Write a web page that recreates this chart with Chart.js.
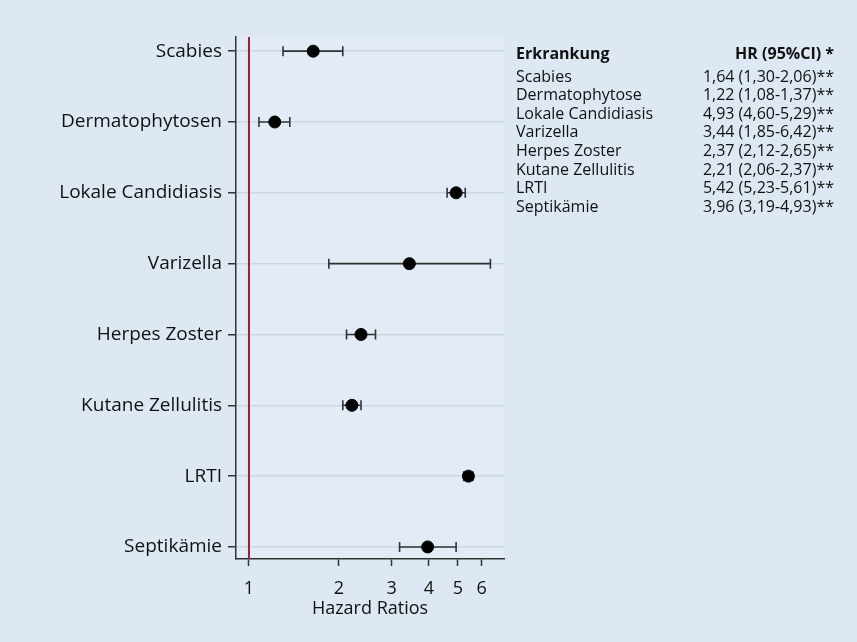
<!DOCTYPE html>
<html>
<head>
<meta charset="utf-8">
<script src="https://cdn.jsdelivr.net/npm/chart.js@4"></script>
<style>
  html, body { margin: 0; padding: 0; background: #dde8f3; }
  #wrap { position: relative; width: 857px; height: 642px; }
  #chart { position: absolute; left: 0; top: 0; }
  #table { position: absolute; left: 516px; top: 44px; width: 318px;
           font-family: "Open Sans", sans-serif; font-size: 16px; color: #111; line-height: 18.6px; }
  #table .row { display: flex; justify-content: space-between; white-space: nowrap; }
  #table .head { font-weight: bold; margin-bottom: 4px; }
</style>
</head>
<body>
<div id="wrap">
  <canvas id="chart" width="857" height="642"></canvas>
  <div id="table"></div>
</div>
<script>
const categories = ["Scabies", "Dermatophytosen", "Lokale Candidiasis", "Varizella", "Herpes Zoster", "Kutane Zellulitis", "LRTI", "Septikämie"];
const tableNames = ["Scabies", "Dermatophytose", "Lokale Candidiasis", "Varizella", "Herpes Zoster", "Kutane Zellulitis", "LRTI", "Septikämie"];
const hr = [1.64, 1.22, 4.93, 3.44, 2.37, 2.21, 5.42, 3.96];
const ciLow = [1.30, 1.08, 4.60, 1.85, 2.12, 2.06, 5.23, 3.19];
const ciHigh = [2.06, 1.37, 5.29, 6.42, 2.65, 2.37, 5.61, 4.93];
const xTicks = [1, 2, 3, 4, 5, 6];

const fmt = v => v.toFixed(2).replace('.', ',');

// table on the right
let html = '<div class="row head"><span>Erkrankung</span><span>HR (95%CI) *</span></div>';
tableNames.forEach((n, i) => {
    html += `<div class="row"><span>${n}</span><span>${fmt(hr[i])} (${fmt(ciLow[i])}-${fmt(ciHigh[i])})**</span></div>`;
});
document.getElementById('table').innerHTML = html;

const plotBg = {
    id: 'plotBg',
    beforeDraw(chart) {
        const { ctx, chartArea: a } = chart;
        ctx.save();
        ctx.fillStyle = '#e3ecf6';
        ctx.fillRect(a.left, a.top, a.right - a.left, a.bottom - a.top);
        ctx.restore();
    }
};

const errorBars = {
    id: 'errorBars',
    beforeDatasetsDraw(chart) {
        const { ctx, scales: { x, y } } = chart;
        ctx.save();
        ctx.strokeStyle = '#333';
        ctx.lineWidth = 1.6;
        hr.forEach((v, i) => {
            const py = y.getPixelForValue(i);
            const x1 = x.getPixelForValue(ciLow[i]);
            const x2 = x.getPixelForValue(ciHigh[i]);
            ctx.beginPath();
            ctx.moveTo(x1, py); ctx.lineTo(x2, py);
            ctx.moveTo(x1, py - 5); ctx.lineTo(x1, py + 5);
            ctx.moveTo(x2, py - 5); ctx.lineTo(x2, py + 5);
            ctx.stroke();
        });
        ctx.restore();
    }
};

new Chart(document.getElementById('chart'), {
    type: 'scatter',
    data: {
        datasets: [
            {
                data: hr.map((v, i) => ({ x: v, y: i })),
                backgroundColor: '#000',
                borderColor: '#000',
                pointRadius: 6,
                order: 1
            },
            {
                type: 'line',
                data: [{ x: 1, y: -0.2 }, { x: 1, y: 7.2 }],
                borderColor: '#9b1b3c',
                borderWidth: 2,
                pointRadius: 0,
                order: 2
            }
        ]
    },
    options: {
        responsive: false,
        animation: false,
        layout: { padding: { left: 10, right: 353, top: 37, bottom: 22 } },
        plugins: { legend: { display: false }, tooltip: { enabled: false } },
        scales: {
            x: {
                type: 'logarithmic',
                min: 0.905,
                max: 7.13,
                afterBuildTicks: s => { s.ticks = xTicks.map(v => ({ value: v })); },
                afterFit: s => { s.height = 642 - 559 - 22; },
                ticks: { color: '#111', font: { family: 'Open Sans', size: 18 }, padding: 12, maxRotation: 0,
                         callback: v => String(v) },
                grid: { drawOnChartArea: false, tickLength: 7, tickColor: '#333', tickWidth: 1.5 },
                border: { color: '#333', width: 1.5 },
                title: { display: true, text: 'Hazard Ratios', color: '#111',
                         font: { family: 'Open Sans', size: 18 }, padding: { top: 0, bottom: 0 } }
            },
            y: {
                type: 'linear',
                reverse: true,
                min: -0.2,
                max: 7.17,
                afterBuildTicks: s => { s.ticks = categories.map((c, i) => ({ value: i })); },
                afterFit: s => { s.width = 226; },
                ticks: { color: '#111', font: { family: 'Open Sans', size: 19 }, padding: 6,
                         callback: v => categories[v] },
                grid: { color: '#cbd8e4', lineWidth: 1.5, tickLength: 8, tickColor: '#333', tickWidth: 1.5 },
                border: { color: '#333', width: 1.5 }
            }
        }
    },
    plugins: [plotBg, errorBars]
});
</script>
</body>
</html>
